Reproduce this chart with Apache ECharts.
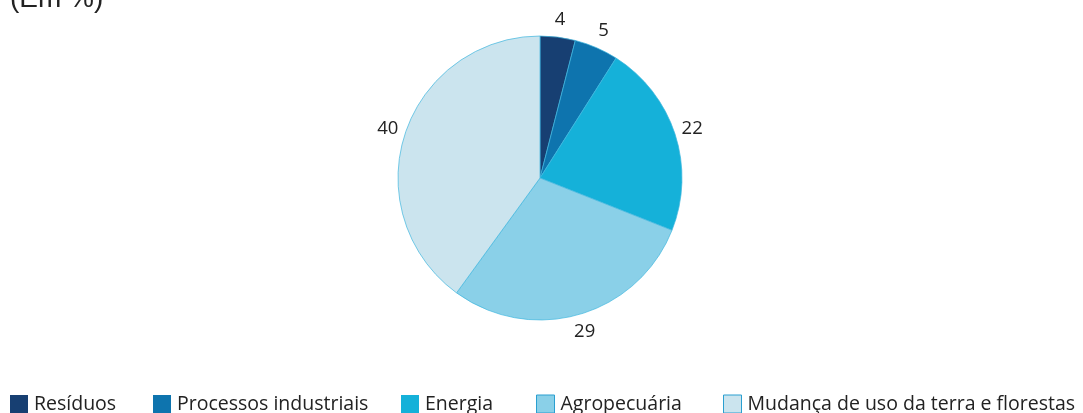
<!DOCTYPE html>
<html><head><meta charset="utf-8">
<script src="https://cdn.jsdelivr.net/npm/echarts@6/dist/echarts.min.js"></script>
<style>html,body{margin:0;padding:0;background:#fff}#c{width:1083px;height:413px}</style>
</head><body><div id="c"></div>
<script>
const categories = ['Resíduos', 'Processos industriais', 'Energia', 'Agropecuária', 'Mudança de uso da terra e florestas'];
const values = [4, 5, 22, 29, 40];
const colors = ['#173f72', '#0e74ae', '#15b1d9', '#8ad0e8', '#cbe4ee'];
const legendLeft = [10, 153, 401, 536, 723];
const pieCenter = [540, 178];

const chart = echarts.init(document.getElementById('c'));
const font = '"Open Sans", "Noto Sans", sans-serif';
chart.setOption({
  animation: false,
  graphic: [{ type: 'text', left: 10, top: -15, style: { text: '(Em %)', font: '28px "Liberation Sans", Arial, sans-serif', fill: '#222' } }],
  legend: categories.map((c, i) => ({
    data: [c], left: legendLeft[i], top: 394, itemWidth: 18, itemHeight: 18, itemGap: 0, padding: 0,
    icon: 'rect', textStyle: { fontFamily: font, fontSize: 19.5, color: '#222', padding: [0, 0, 0, 1] },
    itemStyle: { borderColor: '#2a9fd0', borderWidth: i >= 3 ? 1 : 0 }
  })),
  series: [{
    type: 'pie', center: pieCenter, radius: 142, startAngle: 90, clockwise: true,
    data: categories.map((c, i) => ({ name: c, value: values[i], itemStyle: { color: colors[i] } })),
    itemStyle: { borderColor: '#3fb6de', borderWidth: 0.7 },
    label: { show: true, position: 'outside', formatter: '{c}', fontFamily: font, fontSize: 18.5, color: '#222', distanceToLabelLine: 0 },
    labelLine: { show: true, length: 10, length2: 0, lineStyle: { opacity: 0, width: 0 } },
    labelLayout: function (p) {
      const pts = p.labelLinePoints;
      if (!pts) return {};
      const dx = pts[0][0] - pieCenter[0], dy = pts[0][1] - pieCenter[1];
      const len = Math.sqrt(dx * dx + dy * dy) || 1;
      const d = 18;
      return { x: pts[0][0] + dx / len * d, y: pts[0][1] + dy / len * d, align: 'center', verticalAlign: 'middle' };
    },
    emphasis: { disabled: true }
  }]
});
</script></body></html>
